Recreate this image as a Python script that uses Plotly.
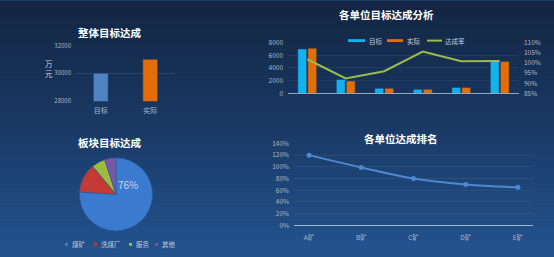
import plotly.graph_objects as go

W, H = 554, 257
def px(x): return x / W
def py(y): return 1 - y / H

# ---------------- data ----------------
overall_cats = ['目标', '实际']
overall_vals = [30000, 31000]

unit_names = ['单位1', '单位2', '单位3', '单位4', '单位5', '单位6']
unit_target = [7000, 2200, 800, 650, 950, 5050]
unit_actual = [7100, 1950, 800, 650, 950, 5000]
unit_rate = [101.8, 92.4, 95.9, 105.6, 100.8, 100.9]

seg_names = ['煤矿', '洗煤厂', '服务', '其他']
seg_vals = [76, 13, 6, 5]

rank_names = ['A矿', 'B矿', 'C矿', 'D矿', 'E矿']
rank_vals = [120, 99, 80, 70, 65]

# ---------------- styles ----------------
FONT = 'Noto Sans CJK SC'
TICK = '#aab7ca'
GRID = '#2a4568'
C_TARGET1 = '#5183c3'
C_ACTUAL = '#e46d0a'
C_TARGET2 = '#12b2ef'
C_RATE = '#9bbb4a'
PIE_COLORS = ['#3b7bcf', '#c23a33', '#9cbd3c', '#7b55a8']
C_RANK = '#4f88d0'

fig = go.Figure()

# background gradient (decoration)
TOP = (0x13, 0x26, 0x43)
MID = (0x1a, 0x3a, 0x66)
BOT = (0x23, 0x53, 0x8e)
NB = 64
for i in range(NB):
    t = (i + 0.5) / NB
    if t < 0.5:
        a, b, f = TOP, MID, t / 0.5
    else:
        a, b, f = MID, BOT, (t - 0.5) / 0.5
    c = tuple(round(a[k] + (b[k] - a[k]) * f) for k in range(3))
    y1 = 1.02 if i == 0 else 1 - i / NB
    y0 = -0.02 if i == NB - 1 else 1 - (i + 1) / NB - 0.002
    fig.add_shape(type='rect', xref='paper', yref='paper', x0=-0.01, x1=1.01,
                  y0=y0, y1=y1,
                  fillcolor='rgb(%d,%d,%d)' % c, line=dict(width=0), layer='below')

# chart 1
fig.add_trace(go.Bar(x=overall_cats, y=overall_vals, width=0.3,
                     marker=dict(color=[C_TARGET1, C_ACTUAL], line=dict(color='#1f3a60', width=0.6)),
                     xaxis='x', yaxis='y', showlegend=False))

# chart 2
fig.add_trace(go.Bar(x=unit_names, y=unit_target, name='目标', marker=dict(color=C_TARGET2, line=dict(color='#1f3a60', width=0.5)),
                     xaxis='x2', yaxis='y2', showlegend=False))
fig.add_trace(go.Bar(x=unit_names, y=unit_actual, name='实际', marker=dict(color=C_ACTUAL, line=dict(color='#1f3a60', width=0.5)),
                     xaxis='x2', yaxis='y2', showlegend=False))
fig.add_trace(go.Scatter(x=unit_names, y=unit_rate, name='达成率', mode='lines',
                         line=dict(color=C_RATE, width=2), xaxis='x2', yaxis='y3', showlegend=False))

# chart 3
fig.add_trace(go.Pie(labels=seg_names, values=seg_vals, sort=False, direction='clockwise', rotation=0,
                     textinfo='none', hoverinfo='label+percent',
                     marker=dict(colors=PIE_COLORS, line=dict(color='#2a5a99', width=0.6)),
                     domain=dict(x=[px(78), px(154)], y=[py(234), py(158)]), showlegend=False))

# chart 4
fig.add_trace(go.Scatter(x=rank_names, y=rank_vals, mode='lines+markers',
                         line=dict(color=C_RANK, width=2, shape='spline'),
                         marker=dict(size=5, color=C_RANK),
                         xaxis='x4', yaxis='y4', showlegend=False))

tickfont = dict(family=FONT, size=6.5, color=TICK)

fig.update_layout(
    width=W, height=H, margin=dict(l=0, r=0, t=0, b=0),
    paper_bgcolor='#1a3a66', plot_bgcolor='rgba(0,0,0,0)',
    font=dict(family=FONT, color=TICK),
    barmode='group', bargap=0.48, bargroupgap=0.12,
    xaxis=dict(domain=[px(76), px(175)], showgrid=False, showline=False, ticks='',
               tickfont=dict(family=FONT, size=7, color=TICK), anchor='y', ticklabelstandoff=4),
    yaxis=dict(domain=[py(99), py(41)], range=[28000, 32000], dtick=2000, tickformat='d',
               gridcolor=GRID, gridwidth=1, zeroline=False, tickfont=dict(family=FONT, size=6, color=TICK),
               anchor='x', ticklabelstandoff=4),
    xaxis2=dict(domain=[px(288), px(519)], showticklabels=False, showgrid=False, ticks='',
                showline=True, linecolor='#8fa8c8', linewidth=1, anchor='y2'),
    yaxis2=dict(domain=[py(91), py(38)], range=[0, 8000], dtick=2000, tickformat='d',
                gridcolor='#233e62', zeroline=False, tickfont=tickfont, anchor='x2', ticklabelstandoff=4),
    yaxis3=dict(overlaying='y2', side='right', range=[85, 110], dtick=5, ticksuffix='%',
                showgrid=False, zeroline=False, tickfont=tickfont, anchor='x2', ticklabelstandoff=4),
    xaxis4=dict(domain=[px(294), px(533)], showgrid=False, ticks='', showline=True,
                linecolor='#9fb4d0', linewidth=1, tickfont=tickfont, anchor='y4', ticklabelstandoff=6),
    yaxis4=dict(domain=[py(228.3), py(143)], range=[0, 140], dtick=20, ticksuffix='%',
                gridcolor='rgba(255,255,255,0.06)', zeroline=False, tickfont=tickfont, anchor='x4',
                ticklabelstandoff=4),
)

def ann(text, x, y, size=10, color='white', bold=False, xanchor='center'):
    fig.add_annotation(text=('<b>%s</b>' % text) if bold else text, x=px(x), y=py(y),
                       xref='paper', yref='paper', showarrow=False, xanchor=xanchor, yanchor='middle',
                       font=dict(family=FONT, size=size, color=color))

# titles
ann('整体目标达成', 110, 28, 10.5, 'white', True)
ann('各单位目标达成分析', 386, 9, 10.5, 'white', True)
ann('板块目标达成', 110, 142, 10.5, 'white', True)
ann('各单位达成排名', 401, 138, 10.5, 'white', True)

# unit label chart 1 (stacked vertically, clear of the 30000 tick label)
ann('万<br>元', 49, 65, 7.5, '#c8d2e0')

# pie label
ann('76%', 127.5, 186, 10, '#c9d3ee')

# chart 2 legend (custom)
def rect(x0, y0, x1, y1, color):
    fig.add_shape(type='rect', xref='paper', yref='paper', x0=px(x0), x1=px(x1), y0=py(y1), y1=py(y0),
                  fillcolor=color, line=dict(width=0))
rect(348, 34.5, 365, 37.5, C_TARGET2)
ann('目标', 367, 36, 6.5, '#c0cadb', xanchor='left')
rect(387, 34.5, 403, 37.5, C_ACTUAL)
ann('实际', 405, 36, 6.5, '#c0cadb', xanchor='left')
fig.add_shape(type='line', xref='paper', yref='paper', x0=px(427), x1=px(442), y0=py(36), y1=py(36),
              line=dict(color=C_RATE, width=2))
ann('达成率', 443, 36, 6.5, '#c0cadb', xanchor='left')

# pie legend (custom)
leg_x = [65, 94, 129, 155]
for xx, name, col in zip(leg_x, seg_names, PIE_COLORS):
    rect(xx, 246.5, xx + 3, 249.5, col)
    ann(name, xx + 4.5, 248, 6.5, '#c0cadb', xanchor='left')

fig.write_html('out.html')
